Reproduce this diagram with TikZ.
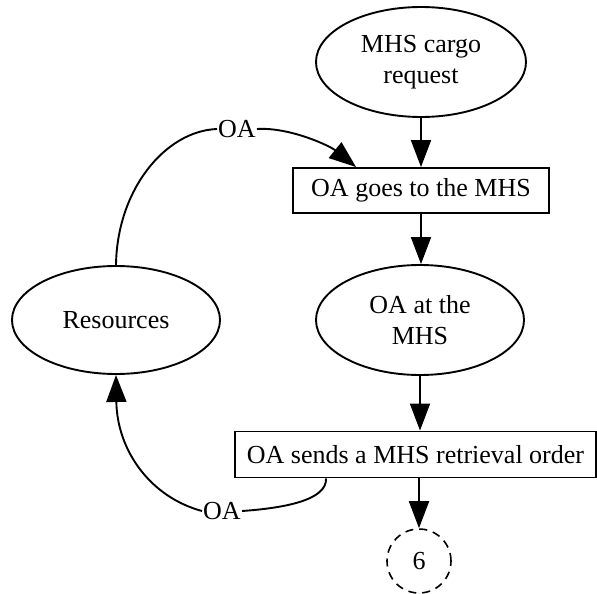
\documentclass[tikz,border=0pt]{standalone}
\usepackage{fontspec}
\setmainfont{Liberation Serif}
\usetikzlibrary{arrows.meta,calc,shapes.geometric}

\tikzset{
  every node/.style={font=\fontsize{26}{31}\selectfont, align=center, inner sep=0pt},
  state/.style={draw, ellipse, line width=1.9pt},
  action/.style={draw, rectangle, line width=1.9pt},
  offpage/.style={draw, circle, dashed, dash pattern=on 8pt off 6pt, line width=1.6pt, minimum size=64pt},
  flow/.style={line width=1.9pt, -{Triangle[length=27pt,width=20pt]}},
  plain/.style={line width=1.9pt},
  edgelabel/.style={inner sep=1pt}
}

\begin{document}
\begin{tikzpicture}[x=1pt, y=-1pt]
  \useasboundingbox (0,0) rectangle (597,594);

  % process nodes
  \node[state, minimum width=210pt, minimum height=110pt] (cargo) at (421,62) {MHS cargo\\request};
  \node[action, minimum width=256pt, minimum height=45pt] (goes) at (421,190.5) {OA goes to the MHS};
  \node[state, minimum width=208pt, minimum height=110pt] (at) at (420,320) {OA at the\\MHS};
  \node[state, minimum width=208pt, minimum height=108pt] (res) at (116,320) {Resources};
  \node[action, minimum width=361pt, minimum height=46pt] (sends) at (415.5,454.5) {OA sends a MHS retrieval order};
  \node[offpage] (six) at (419,561) {6};

  % edge labels
  \node[edgelabel] (oa1) at (237,129) {OA};
  \node[edgelabel] (oa2) at (222,511) {OA};

  % attachment points on the boxes
  \coordinate (gin) at ($(goes.north west)+(64,0)$);
  \coordinate (sout) at ($(sends.south west)+(92,0)$);

  % main flow
  \draw[flow] (cargo.south) -- (cargo.south |- goes.north);
  \draw[flow] (goes.south |- goes.south) -- (goes.south |- at.north);
  \draw[flow] (at.south) -- (at.south |- sends.north);
  \draw[flow] (six.north |- sends.south) -- (six.north);

  % resource loop
  \draw[plain] (res.north) .. controls (117,190) and (165,131) .. (oa1.west);
  \draw[flow] (oa1.east) .. controls (290,127) and (330,146) .. (gin);
  \draw[plain] (sout) .. controls (327,500) and (285,508) .. (oa2.east);
  \draw[flow] (oa2.west) .. controls (150,497) and (117,450) .. (res.south);
\end{tikzpicture}
\end{document}
